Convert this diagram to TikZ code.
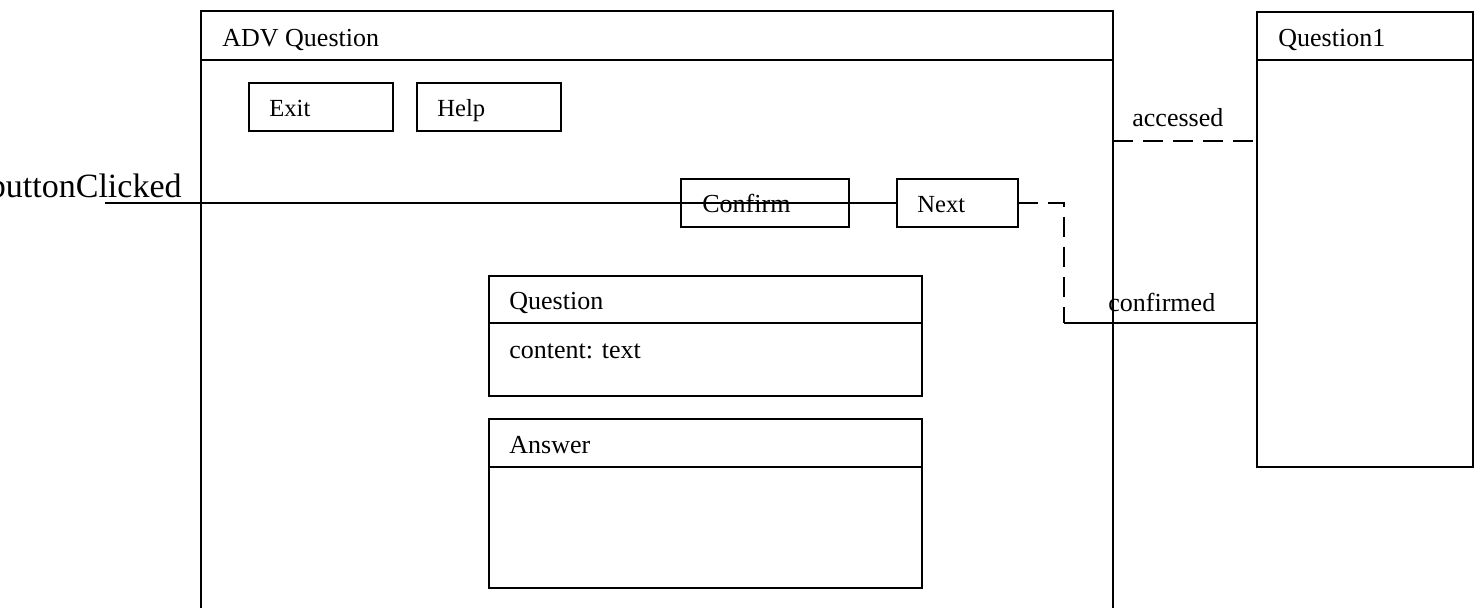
\documentclass[tikz,border=0pt]{standalone}
\usepackage{fontspec}
\setmainfont{Liberation Serif}
\begin{document}
\begin{tikzpicture}[x=0.5pt,y=-0.5pt,
  box/.style={draw, line width=1pt, inner sep=0pt, outer sep=0pt},
  lbl/.style={anchor=base west, inner sep=0pt, font=\fontsize{13}{15}\selectfont},
  slbl/.style={anchor=base west, inner sep=0pt, font=\fontsize{12.3}{14}\selectfont},
  conn/.style={line width=1pt},
  dconn/.style={line width=1pt, dash pattern=on 10pt off 5pt}]
\useasboundingbox (0,0) rectangle (1480,608);
% frames
\node[box, minimum width=456pt, minimum height=314.5pt] (adv) at (657,325.5) {};
\draw[line width=1pt] ([yshift=-24.5pt]adv.north west) -- ([yshift=-24.5pt]adv.north east);
\node[box, minimum width=108pt, minimum height=227.5pt] (q1) at (1365,239.5) {};
\draw[line width=1pt] ([yshift=-24pt]q1.north west) -- ([yshift=-24pt]q1.north east);
\node[box, minimum width=72pt, minimum height=24pt] (exit) at (321,107) {};
\node[box, minimum width=72pt, minimum height=24pt] (help) at (489,107) {};
\node[box, minimum width=84pt, minimum height=24pt] (confirm) at (765,203) {};
\node[box, minimum width=60.5pt, minimum height=24pt] (next) at (957.5,203) {};
\node[box, minimum width=216.5pt, minimum height=60pt] (question) at (705.5,336) {};
\draw[line width=1pt] ([yshift=-23.5pt]question.north west) -- ([yshift=-23.5pt]question.north east);
\node[box, minimum width=216.5pt, minimum height=84.5pt] (answer) at (705.5,503.5) {};
\draw[line width=1pt] ([yshift=-24pt]answer.north west) -- ([yshift=-24pt]answer.north east);
% texts
\node[lbl] (advt) at (222,47) {ADV Question};
\node[lbl] (q1t) at (1278,47) {Question1};
\node[slbl] (exitt) at (269,117) {Exit};
\node[slbl] (helpt) at (437,117) {Help};
\node[lbl] (conft) at (702,213) {Confirm};
\node[slbl] (nextt) at (917,213) {Next};
\node[lbl] (qt) at (509,310) {Question};
\node[lbl] (qc) at (509,359) {content: text};
\node[lbl] (ant) at (509,454) {Answer};
\node[lbl] (acc) at (1132,127) {accessed};
\node[lbl] (conf) at (1108,312) {confirmed};
\node[anchor=base east, inner sep=0pt, font=\fontsize{17}{20}\selectfont] (bc) at (182,198) {buttonClicked};
% connectors
\coordinate (bcs) at (105,203);
\draw[conn] (bcs) -- (next.west);
\coordinate (c1) at (1064,203);
\coordinate (c2) at (1064,323);
\draw[dconn] (next.east) -- (c1) -- (c2);
\draw[conn] (c2) -- (q1.west |- c2);
\coordinate (a1) at (1113,141);
\draw[dconn] (a1) -- (q1.west |- a1);
\end{tikzpicture}
\end{document}
